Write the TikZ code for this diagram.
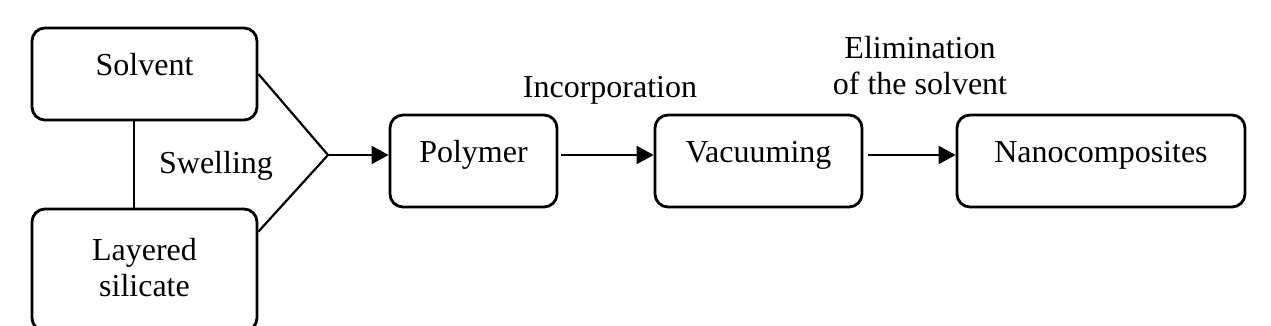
\documentclass[tikz,border=0pt]{standalone}
\usepackage{fontspec}
\setmainfont{Liberation Serif}
\usetikzlibrary{arrows.meta,positioning}

\begin{document}
\begin{tikzpicture}[x=0.5pt,y=-0.5pt,>={Triangle[length=8.5pt,width=9pt]},
 box/.style={draw,line width=1.4pt,rounded corners=6.5pt,inner sep=0pt,
 align=center,minimum height=46pt,text height=0.7em,text depth=0.6em},
 lbl/.style={inner sep=0pt,align=center},
 conn/.style={line width=1.1pt}]
 \useasboundingbox (0,0) rectangle (1271,326);
 \fontsize{16}{18}\selectfont
 \node[box,minimum width=112.5pt] (solv) at (144.5,74) {Solvent};
 \node[box,minimum width=112.5pt,minimum height=61pt,text height=,text depth=3pt]
 (lay) at (144.5,270) {Layered\\silicate};
 \node[box,minimum width=83.5pt] (poly) at (473.5,161) {Polymer};
 \node[box,minimum width=103.5pt] (vac) at (758.5,161) {Vacuuming};
 \node[box,minimum width=144pt] (nano) at (1101,161) {Nanocomposites};
 \coordinate (tip) at (328,155);
 \node[lbl,anchor=base] (swell) at (216,174) {Swelling};
 \node[lbl,anchor=base] (incorp) at (610,98) {Incorporation};
 \node[lbl] (elim) at (920,66) {Elimination\\of the solvent};
 \draw[conn] ([xshift=-5.25pt]solv.south) -- ([xshift=-5.25pt]lay.north);
 \draw[conn] (solv.east) -- (tip) -- ([yshift=-12pt]lay.north east);
 \draw[conn,->] (tip) -- (tip -| poly.west);
 \draw[conn,->] ([xshift=1.5pt,yshift=3pt]poly.east) -- ([yshift=3pt]vac.west);
 \draw[conn,->] ([xshift=2.5pt,yshift=3pt]vac.east) -- ([yshift=3pt]nano.west);
\end{tikzpicture}
\end{document}
